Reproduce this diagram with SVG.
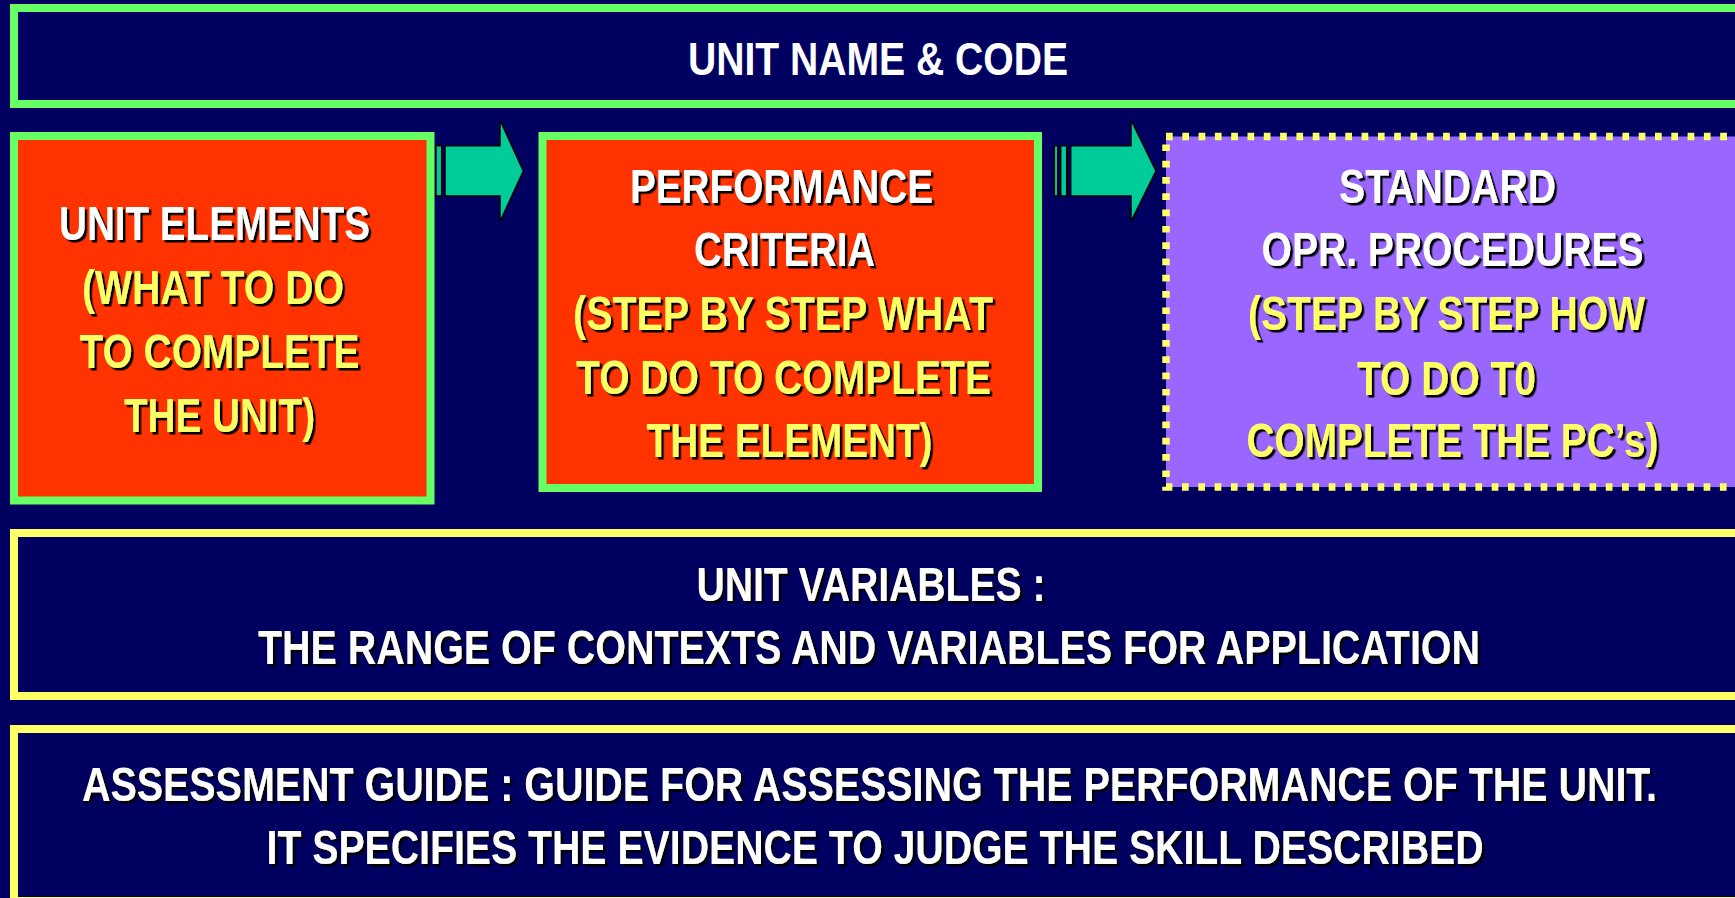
<svg xmlns="http://www.w3.org/2000/svg" width="1735" height="898" viewBox="0 0 1735 898">
  <defs>
    <filter id="shadow" x="-5%" y="-20%" width="110%" height="150%">
      <feDropShadow dx="2.5" dy="2.5" stdDeviation="0" flood-color="#000000" flood-opacity="1"/>
    </filter>
  </defs>
  <style>
    .bg { fill: #000060; }
    .frame-green { fill: none; stroke: #66FF66; stroke-width: 8; }
    .frame-yellow { fill: none; stroke: #FFFF66; stroke-width: 8; }
    .red { fill: #FF3300; stroke: #66FF66; stroke-width: 8; }
    .violet { fill: #9966FF; }
    .dotted { fill: none; stroke: #FFFF66; stroke-width: 7.5; stroke-dasharray: 6.7 9.6; }
    .arrow { fill: #00CC99; stroke: #000000; stroke-width: 1.5; stroke-linejoin: miter; }
    text { font-family: "Liberation Sans Narrow", "Liberation Sans", Arial, sans-serif; font-weight: bold; font-size: 48.5px; }
    .title { font-size: 47px; }
    .w { fill: #FFFFFF; }
    .y { fill: #FFFF66; }
    .sh { filter: url(#shadow); }
  </style>

  <rect class="bg" x="0" y="0" width="1735" height="898"/>

  <!-- title bar -->
  <g id="unit-name">
    <rect class="frame-green" x="14" y="8" width="1800" height="96"/>
    <text class="w title" x="688" y="74.5" textLength="380" lengthAdjust="spacingAndGlyphs">UNIT NAME &amp; CODE</text>
  </g>

  <!-- unit elements -->
  <g id="unit-elements">
    <rect class="red" x="14" y="136" width="416.5" height="364.5"/>
    <g class="sh">
      <text class="w" x="59" y="239.5" textLength="311" lengthAdjust="spacingAndGlyphs">UNIT ELEMENTS</text>
      <text class="y" x="82" y="304" textLength="262" lengthAdjust="spacingAndGlyphs">(WHAT TO DO</text>
      <text class="y" x="79.5" y="368" textLength="280" lengthAdjust="spacingAndGlyphs">TO COMPLETE</text>
      <text class="y" x="124" y="432" textLength="191" lengthAdjust="spacingAndGlyphs">THE UNIT)</text>
    </g>
  </g>

  <!-- performance criteria -->
  <g id="performance-criteria">
    <rect class="red" x="542.5" y="136" width="495.5" height="352"/>
    <g class="sh">
      <text class="w" x="630" y="202.5" textLength="303" lengthAdjust="spacingAndGlyphs">PERFORMANCE</text>
      <text class="w" x="694" y="266" textLength="181" lengthAdjust="spacingAndGlyphs">CRITERIA</text>
      <text class="y" x="573" y="330" textLength="420" lengthAdjust="spacingAndGlyphs">(STEP BY STEP WHAT</text>
      <text class="y" x="576" y="394" textLength="415" lengthAdjust="spacingAndGlyphs">TO DO TO COMPLETE</text>
      <text class="y" x="646.5" y="456.5" textLength="286" lengthAdjust="spacingAndGlyphs">THE ELEMENT)</text>
    </g>
  </g>

  <!-- standard operating procedures -->
  <g id="standard-procedures">
    <rect class="violet" x="1166" y="136.5" width="700" height="350.5"/>
    <rect class="dotted" x="1166" y="136.5" width="700" height="350.5"/>
    <g class="sh">
      <text class="w" x="1339" y="203" textLength="217" lengthAdjust="spacingAndGlyphs">STANDARD</text>
      <text class="w" x="1261.5" y="266" textLength="382" lengthAdjust="spacingAndGlyphs">OPR. PROCEDURES</text>
      <text class="y" x="1248" y="330" textLength="397" lengthAdjust="spacingAndGlyphs">(STEP BY STEP HOW</text>
      <text class="y" x="1357" y="395" textLength="179" lengthAdjust="spacingAndGlyphs">TO DO T0</text>
      <text class="y" x="1246.5" y="457" textLength="412" lengthAdjust="spacingAndGlyphs">COMPLETE THE PC’s)</text>
    </g>
  </g>

  <!-- unit variables -->
  <g id="unit-variables">
    <rect class="frame-yellow" x="14" y="533" width="1800" height="163"/>
    <g class="sh">
      <text class="w" x="696.5" y="601" textLength="349" lengthAdjust="spacingAndGlyphs">UNIT VARIABLES :</text>
      <text class="w" x="258" y="664" textLength="1222" lengthAdjust="spacingAndGlyphs">THE RANGE OF CONTEXTS AND VARIABLES FOR APPLICATION</text>
    </g>
  </g>

  <!-- assessment guide -->
  <g id="assessment-guide">
    <rect class="frame-yellow" x="14" y="729" width="1800" height="172"/>
    <g class="sh">
      <text class="w" x="82" y="801" textLength="1575" lengthAdjust="spacingAndGlyphs">ASSESSMENT GUIDE : GUIDE FOR ASSESSING THE PERFORMANCE OF THE UNIT.</text>
      <text class="w" x="266.5" y="864" textLength="1217" lengthAdjust="spacingAndGlyphs">IT SPECIFIES THE EVIDENCE TO JUDGE THE SKILL DESCRIBED</text>
    </g>
  </g>

  <!-- block arrows between the three stages -->
  <g id="connectors">
    <g id="arrow-elements-criteria">
      <rect class="arrow" x="436" y="145.7" width="5.7" height="50.3"/>
      <polygon class="arrow" points="445,145.7 500,145.7 500,120 523.3,171 500,221.7 500,196 445,196"/>
    </g>
    <g id="arrow-criteria-procedures">
      <rect class="arrow" x="1054.3" y="145.7" width="3.4" height="50.3"/>
      <rect class="arrow" x="1060.7" y="145.7" width="6" height="50.3"/>
      <polygon class="arrow" points="1070.7,145.7 1131,145.7 1131,120 1156,171 1131,221.7 1131,196 1070.7,196"/>
    </g>
  </g>
</svg>
